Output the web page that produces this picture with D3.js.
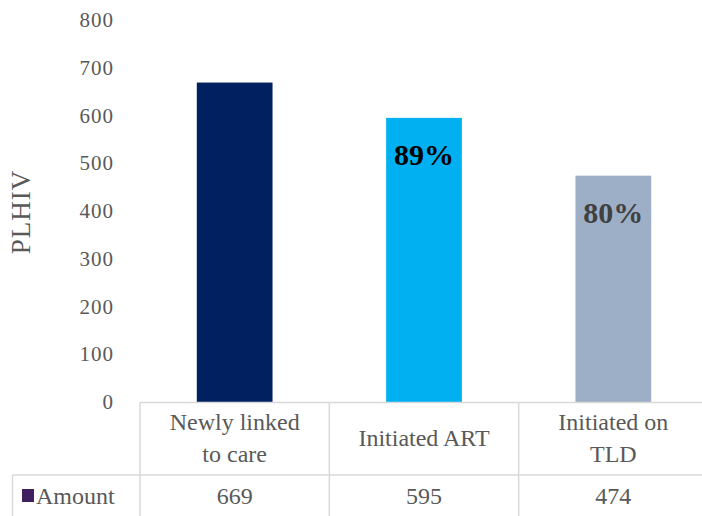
<!DOCTYPE html>
<html><head><meta charset="utf-8">
<script src="https://cdn.jsdelivr.net/npm/d3@7"></script>
<style>body{margin:0;background:#fff}svg{display:block}</style>
</head><body>
<svg id="c" width="702" height="516"></svg>
<script>
const categories = [["Newly linked","to care"],["Initiated ART"],["Initiated on","TLD"]];
const values = [669, 595, 474];
const barColors = ["#002060", "#00B0F0", "#9DAFC7"];
const pctLabels = ["", "89%", "80%"];
const pctColors = ["#000", "#000", "#404040"];
const yTicks = [0,100,200,300,400,500,600,700,800];
const seriesName = "Amount";

(function(){
const svg = d3.select("#c");
const font = "'Liberation Serif', 'DejaVu Serif', serif";
const pLeft = 140, pRight = 708, pTop = 20, pBottom = 402;
const x = d3.scaleBand().domain(d3.range(values.length)).range([pLeft, pRight]).paddingInner(0).paddingOuter(0);
const y = d3.scaleLinear().domain([0, 800]).range([pBottom, pTop]);
const bw = x.bandwidth() * 0.4;

const yAxis = d3.axisLeft(y).tickValues(yTicks).tickSize(0).tickPadding(0);
const ga = svg.append("g").attr("transform", `translate(114,0)`).call(yAxis);
ga.select(".domain").remove();
ga.selectAll("text").attr("font-family", font).attr("font-size", 21).attr("letter-spacing", "1px").attr("fill", "#595959");

svg.selectAll("rect.bar").data(values).enter().append("rect")
  .attr("x", (d,i) => x(i) + (x.bandwidth()-bw)/2)
  .attr("y", d => y(d)).attr("width", bw).attr("height", d => pBottom - y(d))
  .attr("fill", (d,i) => barColors[i]);

svg.selectAll("text.pct").data(values).enter().append("text")
  .attr("x", (d,i) => x(i) + x.bandwidth()/2)
  .attr("y", d => y(d) + 47)
  .attr("text-anchor", "middle").attr("font-family", font).attr("font-weight", "bold")
  .attr("font-size", 30).attr("fill", (d,i) => pctColors[i])
  .text((d,i) => pctLabels[i]);

svg.append("text").attr("transform", "translate(30,212) rotate(-90)")
  .attr("text-anchor", "middle").attr("font-family", font).attr("font-size", 27).attr("letter-spacing", "1px").attr("fill", "#595959")
  .text("PLHIV");

const grid = "#D9D9D9";
const rowTop = 402.5, rowMid = 475, rowBot = 530, tableLeft = 12.5;
const line = (x1,y1,x2,y2) => svg.append("line").attr("x1",x1).attr("y1",y1).attr("x2",x2).attr("y2",y2).attr("stroke",grid).attr("stroke-width",1.5);
line(pLeft, rowTop, pRight, rowTop);
line(tableLeft, rowMid, pRight, rowMid);
line(tableLeft, rowMid, tableLeft, rowBot);
d3.range(values.length+1).forEach(i => {
  const xx = i < values.length ? x(i) : pRight;
  line(xx, rowTop, xx, rowBot);
});

categories.forEach((lines, i) => {
  const cx = x(i) + x.bandwidth()/2;
  const lh = 32;
  const base = lines.length === 1 ? 446 : 430;
  lines.forEach((t, j) => {
    svg.append("text").attr("x", cx).attr("y", base + j*lh)
      .attr("text-anchor","middle").attr("font-family",font).attr("font-size",24).attr("fill","#595959").text(t);
  });
});

values.forEach((v, i) => {
  svg.append("text").attr("x", x(i) + x.bandwidth()/2).attr("y", 504)
    .attr("text-anchor","middle").attr("font-family",font).attr("font-size",24).attr("fill","#595959").text(v);
});
svg.append("rect").attr("x", 22).attr("y", 489).attr("width", 12).attr("height", 13).attr("fill", "#3F1F5E");
svg.append("text").attr("x", 36).attr("y", 504).attr("font-family",font).attr("font-size",24).attr("fill","#595959").text(seriesName);
})();
</script>
</body></html>
